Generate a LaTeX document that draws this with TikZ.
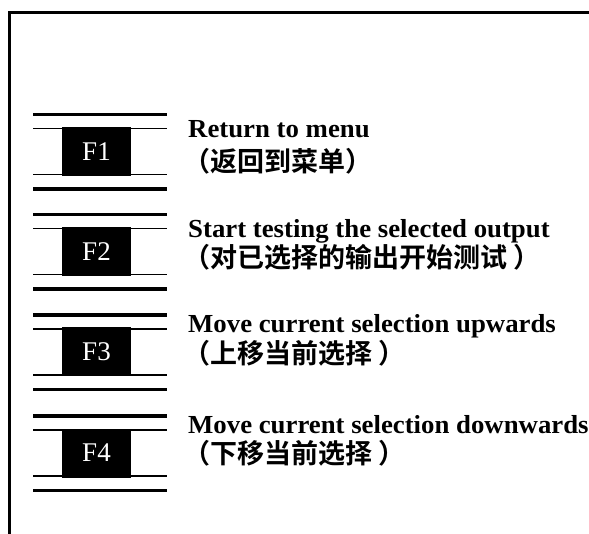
\documentclass[tikz,border=0pt]{standalone}
\usepackage{graphicx}
\usepackage{fontspec}
\setmainfont{Liberation Serif}
\newfontfamily\cjk{Noto Sans CJK SC}[BoldFont={Noto Sans CJK SC Bold}]
\begin{document}
\begin{tikzpicture}[x=1pt,y=-1pt,
  thick line/.style={line width=3.6pt},
  thin line/.style={line width=1.8pt},
  fkey/.style={fill=black,text=white,minimum width=69pt,minimum height=49pt,inner sep=0pt,font=\fontsize{27}{30}\selectfont},
  entext/.style={anchor=base west,inner sep=0pt,font=\bfseries\fontsize{26}{30}\selectfont},
  zhtext/.style={anchor=west,inner sep=0pt,font=\cjk\bfseries\fontsize{27}{30}\selectfont}]
\useasboundingbox (0,0) rectangle (589,534);
\draw[line width=3.6pt,line join=miter] (9.5,534) -- (9.5,12.5) -- (589,12.5);
% groups
\foreach \t/\k in {114.5/1,214.5/2,315/3,416/4}{
  \draw[thick line] (33,\t) -- (167,\t);
  \draw[thick line] (33,\t+74.5) -- (167,\t+74.5);
  \draw[thin line] (33,\t+14) -- (167,\t+14);
  \draw[thin line] (33,\t+60) -- (167,\t+60);
  \node[fkey] (F\k) at (96.5,\t+37) {F\k};
}
\node[entext] (e1) at (188,137.5) {\scalebox{1.03}[1]{Return to menu}};
\node[zhtext] (z1) at (183,161) {（返回到菜单）};
\node[entext] (e2) at (188,237.5) {\scalebox{1.03}[1]{Start testing the selected output}};
\node[zhtext] (z2) at (183,257) {（对已选择的输出开始测试 ）};
\node[entext] (e3) at (188,333) {\scalebox{1.03}[1]{Move current selection upwards}};
\node[zhtext] (z3) at (183,353) {（上移当前选择 ）};
\node[entext] (e4) at (188,433.5) {\scalebox{1.03}[1]{Move current selection downwards}};
\node[zhtext] (z4) at (183,453) {（下移当前选择 ）};
\end{tikzpicture}
\end{document}
